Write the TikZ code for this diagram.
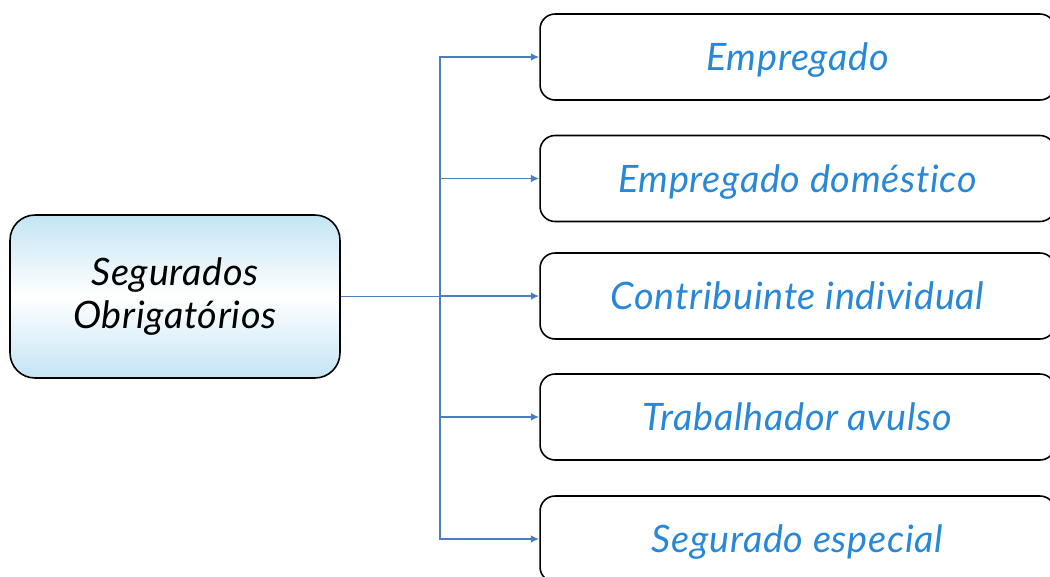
\documentclass[tikz,border=0pt]{standalone}
\usepackage{fontspec}
\setmainfont[LetterSpace=2,Ligatures=NoCommon]{Lato}
\usetikzlibrary{arrows.meta}
\definecolor{linkblue}{RGB}{74,126,193}
\definecolor{textblue}{RGB}{40,135,215}
\definecolor{paleblue}{RGB}{196,228,244}
\begin{document}
\begin{tikzpicture}[x=0.02cm,y=-0.02cm,
  mainbox/.style={draw=black,line width=0.9pt,rounded corners=0.5cm,
    minimum width=6.6cm,minimum height=3.26cm,align=center,
    top color=paleblue,bottom color=paleblue,middle color=white,
    font=\fontsize{21.5}{25}\selectfont\itshape},
  kindbox/.style={draw=black,line width=0.9pt,rounded corners=0.3cm,fill=white,
    minimum width=10.3cm,minimum height=1.72cm,text=textblue,text depth=0pt,
    font=\fontsize{21.5}{25}\selectfont\itshape},
  link/.style={draw=linkblue,line width=1pt,-{Latex[length=4.8pt,width=4.4pt]}}]
\useasboundingbox (0,0) rectangle (1050,576);
\clip (0,0) rectangle (1050,576);
% Caixa principal
\node[mainbox] (seg) at (175,296.5) {Segurados\\Obrigatórios};
% Tipos de segurado
\node[kindbox] (emp) at (797.5,57) {Empregado};
\node[kindbox] (dom) at (797.5,178.5) {Empregado doméstico};
\node[kindbox] (ci) at (797.5,296) {Contribuinte individual};
\node[kindbox] (ta) at (797.5,417) {Trabalhador avulso};
\node[kindbox] (se) at (797.5,539) {Segurado especial};
% Ligacoes
\coordinate (bus) at (440,296.5);
\draw[linkblue,line width=1pt] (seg.east) -- (bus);
\foreach \n in {emp,dom,ci,ta,se}
  \draw[link] (bus) |- (\n.west);
\end{tikzpicture}
\end{document}
